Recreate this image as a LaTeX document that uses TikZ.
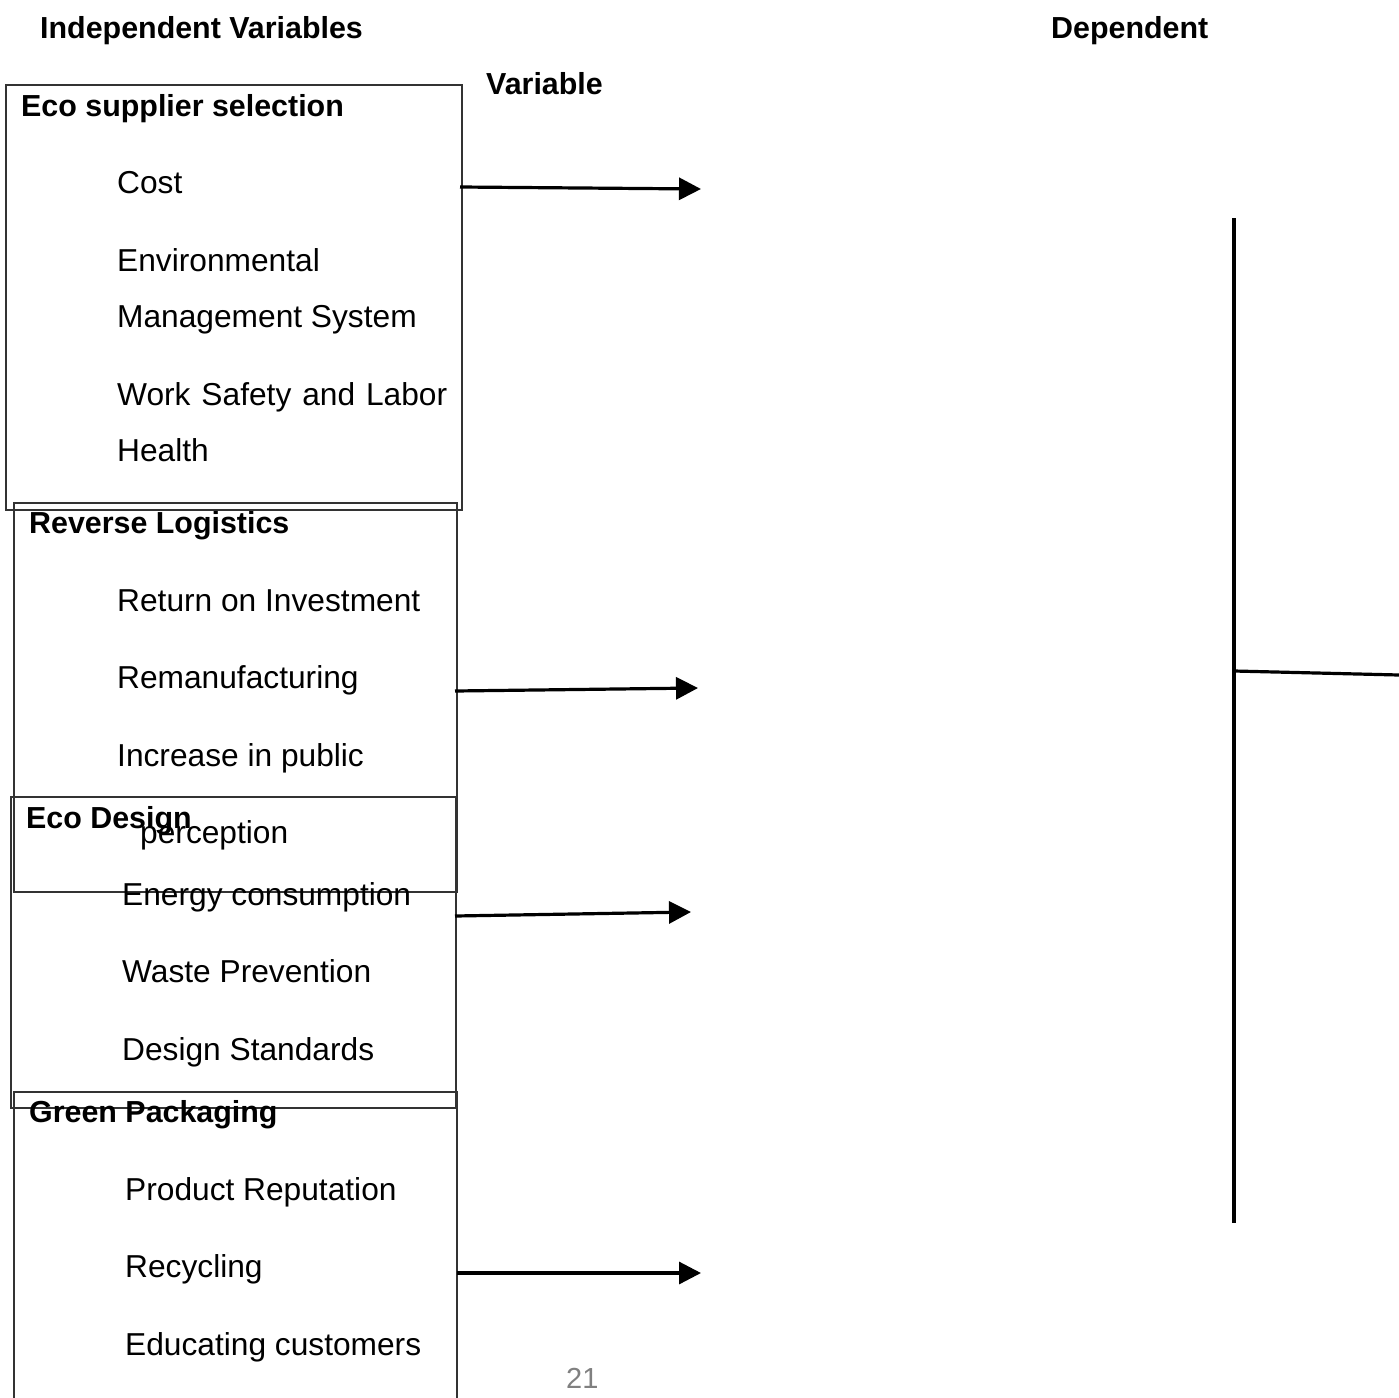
\documentclass[tikz,border=0pt]{standalone}
\usepackage{fontspec}
\setmainfont{Liberation Sans}
\usepackage{tikz}
\usetikzlibrary{arrows.meta}

\tikzset{
  head/.style={anchor=base west,inner sep=0pt,font=\fontsize{30.4}{36}\selectfont\bfseries},
  item/.style={anchor=base west,inner sep=0pt,font=\fontsize{31.7}{37}\selectfont},
  frame/.style={draw=black!80,line width=1.5pt},
  link/.style={line width=3.2pt,-{Triangle[length=22pt,width=22pt]}}
}

\begin{document}
\begin{tikzpicture}[x=1pt,y=-1pt]
    \useasboundingbox[fill=white](0,0)rectangle(1399,1397);
    % titles
    \node[head](indep)at(40,38){Independent Variables};
    \node[head](dep)at(1051,38){Dependent};
    \node[head](var)at(486,94){Variable};
    % boxes
    \draw[frame](6,85)rectangle(462,510);
    \draw[frame](14,503)rectangle(457,892);
    \draw[frame](11,797)rectangle(456,1108);
    \draw[frame](14,1400)|-(457,1092)--(457,1400);
    % eco supplier selection
    \node[head](sup)at(21,116){Eco supplier selection};
    \node[item](cost)at(117,193){Cost};
    \node[item](ems1)at(117,271){Environmental};
    \node[item](ems2)at(117,327){Management System};
    \node[item](wsl1)at(117,405){\makebox[330pt][s]{Work Safety and Labor}};
    \node[item](wsl2)at(117,461){Health};
    % reverse logistics
    \node[head](rev)at(29,533){Reverse Logistics};
    \node[item](roi)at(117,611){Return on Investment};
    \node[item](reman)at(117,688){Remanufacturing};
    \node[item](pub1)at(117,766){Increase in public};
    \node[item](pub2)at(140,843){perception};
    % eco design
    \node[head](des)at(26,828){Eco Design};
    \node[item](energy)at(122,905){Energy consumption};
    \node[item](waste)at(122,982){Waste Prevention};
    \node[item](std)at(122,1060){Design Standards};
    % green packaging
    \node[head](pack)at(29,1122){Green Packaging};
    \node[item](rep)at(125,1200){Product Reputation};
    \node[item](recyc)at(125,1277){Recycling};
    \node[item](edu)at(125,1355){Educating customers};
    % arrows
    \coordinate(a1)at(460,187);\coordinate(b1)at(701,189);
    \coordinate(a2)at(455,691);\coordinate(b2)at(698,688);
    \coordinate(a3)at(455,916);\coordinate(b3)at(691,912);
    \coordinate(a4)at(457,1273);\coordinate(b4)at(701,1273);
    \draw[link](a1)--(b1);
    \draw[link](a2)--(b2);
    \draw[link](a3)--(b3);
    \draw[link](a4)--(b4);
    % right side
    \coordinate(top)at(1234,218);\coordinate(bot)at(1234,1223);
    \coordinate(join)at(1234,671);\coordinate(out)at(1399,675);
    \draw[line width=3.2pt](top)--(bot);
    \draw[line width=3.2pt](join)--(out);
    % page number
    \node[anchor=base west,inner sep=0pt,text=black!50,font=\fontsize{29}{34}\selectfont](pg)at(566,1388){21};
  \end{tikzpicture}
\end{document}
